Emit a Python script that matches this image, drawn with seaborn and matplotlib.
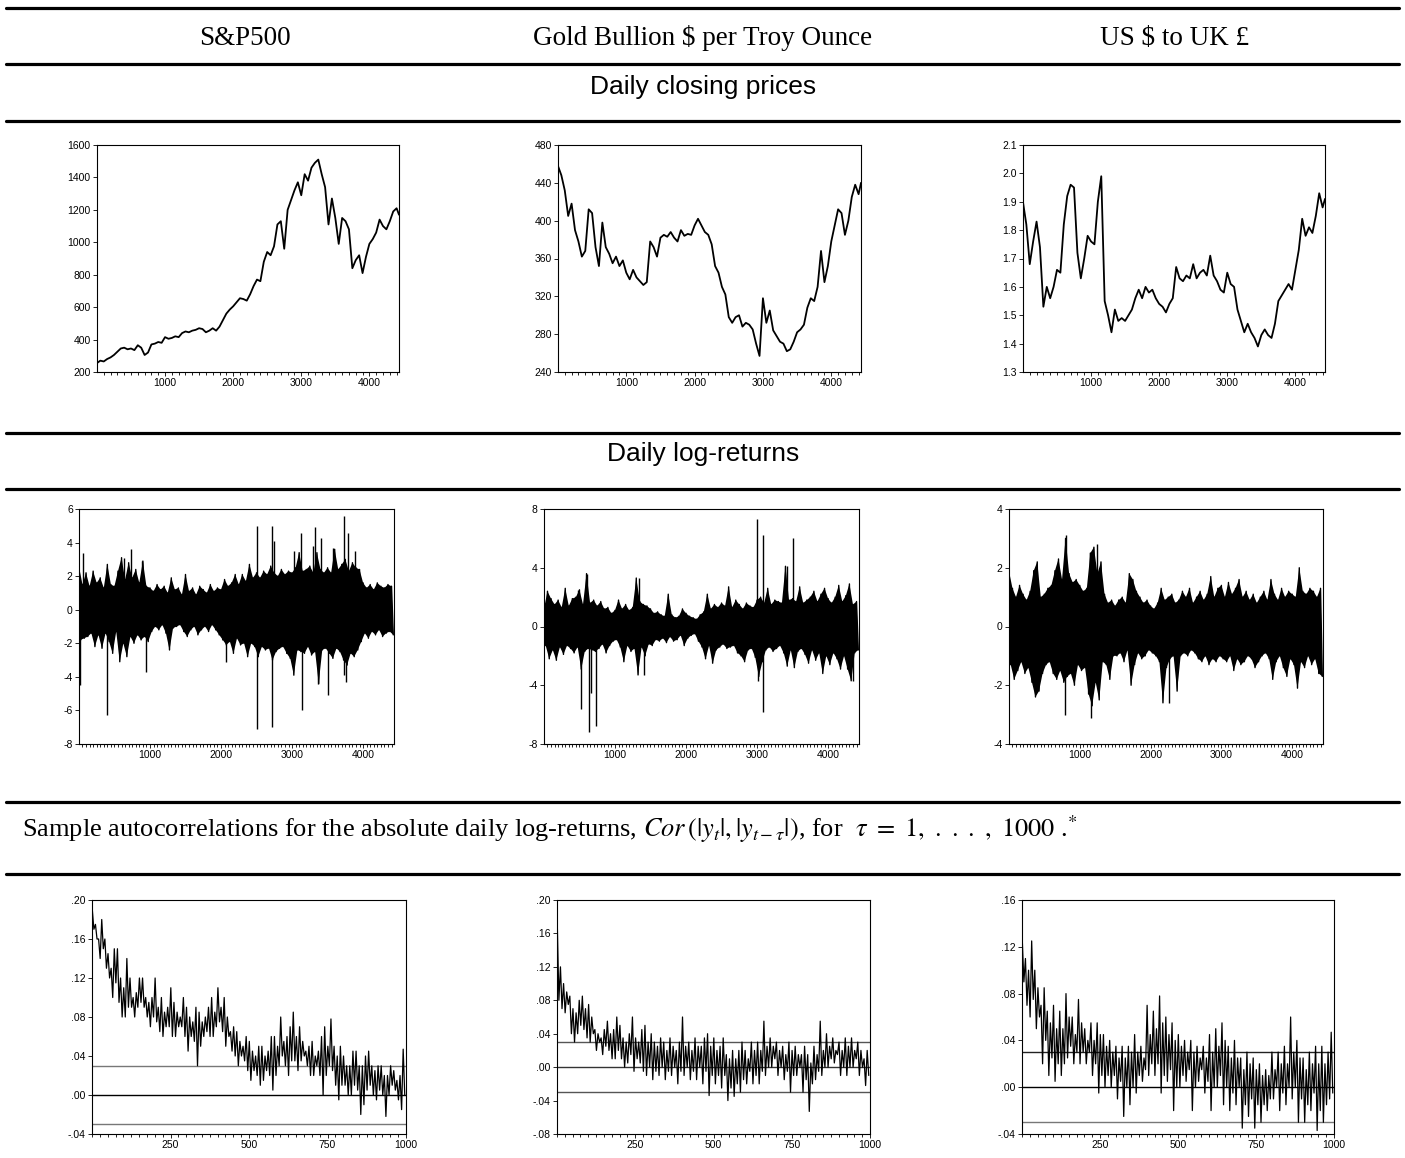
import numpy as np
import pandas as pd
import matplotlib
matplotlib.use("Agg")
import matplotlib.pyplot as plt
from matplotlib.lines import Line2D
from matplotlib.ticker import FixedLocator, MultipleLocator
import seaborn as sns

# ---------------- data ----------------
# daily closing prices, one reading every 50 trading days (last one = obs 4435)
price_obs = list(range(0, 4401, 50)) + [4435]
sp500_close = [255, 270, 265, 280, 290, 305, 325, 345, 350, 340,
               345, 335, 365, 350, 305, 320, 370, 375, 385, 380,
               415, 405, 410, 420, 415, 440, 450, 445, 455, 460,
               470, 465, 445, 455, 470, 455, 480, 520, 560, 585,
               605, 630, 655, 650, 640, 680, 730, 770, 760, 880,
               940, 920, 975, 1110, 1130, 960, 1200, 1260, 1320, 1370,
               1290, 1420, 1380, 1460, 1490, 1510, 1420, 1340, 1110, 1270,
               1150, 990, 1150, 1130, 1080, 840, 890, 920, 810, 910,
               990, 1020, 1060, 1140, 1100, 1080, 1130, 1190, 1210, 1170]
gold_close = [458, 448, 432, 405, 418, 390, 378, 362, 368, 412,
              408, 372, 352, 398, 372, 365, 355, 362, 352, 358,
              345, 338, 348, 340, 336, 332, 335, 378, 372, 362,
              382, 385, 383, 388, 382, 378, 390, 384, 386, 385,
              395, 402, 395, 388, 385, 375, 352, 345, 330, 322,
              298, 292, 298, 300, 288, 292, 290, 285, 270, 257,
              318, 292, 305, 284, 278, 272, 270, 262, 264, 272,
              282, 285, 290, 308, 318, 315, 330, 368, 335, 352,
              378, 395, 412, 408, 385, 400, 425, 438, 428, 440]
usd_gbp_close = [1.90, 1.82, 1.68, 1.76, 1.83, 1.74, 1.53, 1.60, 1.56, 1.60,
                 1.66, 1.65, 1.82, 1.92, 1.96, 1.95, 1.72, 1.63, 1.70, 1.78,
                 1.76, 1.75, 1.90, 1.99, 1.55, 1.50, 1.44, 1.52, 1.48, 1.49,
                 1.48, 1.50, 1.52, 1.56, 1.59, 1.56, 1.60, 1.58, 1.59, 1.56,
                 1.54, 1.53, 1.51, 1.54, 1.56, 1.67, 1.63, 1.62, 1.64, 1.63,
                 1.68, 1.63, 1.65, 1.66, 1.64, 1.71, 1.64, 1.62, 1.59, 1.58,
                 1.65, 1.61, 1.60, 1.52, 1.48, 1.44, 1.47, 1.44, 1.42, 1.39,
                 1.43, 1.45, 1.43, 1.42, 1.47, 1.55, 1.57, 1.59, 1.61, 1.59,
                 1.66, 1.73, 1.84, 1.78, 1.81, 1.79, 1.85, 1.93, 1.88, 1.91]

# daily log-returns: upper envelope read at obs 0,50,..,4400, lower at 25,75,..,4425
ret_obs_hi = list(range(0, 4401, 50))
ret_obs_lo = list(range(25, 4426, 50))
sp500_ret_hi = [2.6, 1.5, 2.2, 1.4, 2.3, 1.6, 1.9, 1.3, 2.7, 1.5,
                1.4, 2.3, 3.1, 1.8, 2.8, 1.9, 2.4, 1.6, 2.9, 1.4,
                1.3, 1.1, 1.5, 1.2, 1.4, 1.0, 1.9, 1.2, 1.3, 0.9,
                2.1, 1.1, 1.3, 0.9, 1.4, 1.2, 1.0, 1.5, 1.1, 1.3,
                1.2, 1.8, 1.4, 1.6, 2.1, 1.5, 2.1, 1.7, 2.7, 1.9,
                2.2, 1.9, 2.3, 2.1, 2.6, 2.2, 2.0, 2.4, 2.1, 2.3,
                2.2, 2.5, 3.4, 2.3, 2.4, 2.6, 2.2, 3.4, 2.4, 2.2,
                2.5, 2.2, 3.6, 2.4, 2.7, 3.0, 2.3, 2.8, 2.5, 2.4,
                1.6, 1.3, 1.5, 1.2, 1.6, 1.4, 1.3, 1.5, 1.4]
sp500_ret_lo = [-1.8, -1.7, -1.6, -1.4, -2.2, -1.5, -2.3, -1.4, -1.9, -2.6,
                -1.3, -3.1, -2.0, -2.8, -1.6, -2.0, -1.5, -1.8, -1.6, -1.9,
                -1.3, -1.0, -1.2, -0.9, -1.4, -2.4, -1.1, -1.0, -0.9, -1.3,
                -1.6, -1.2, -1.0, -1.5, -1.2, -1.0, -1.3, -0.9, -1.2, -1.5,
                -1.8, -2.1, -1.9, -2.6, -1.7, -2.1, -2.0, -2.8, -2.0, -2.2,
                -2.8, -2.2, -2.4, -2.3, -3.0, -2.5, -2.3, -2.2, -2.6, -2.9,
                -3.9, -2.4, -2.5, -2.6, -2.2, -2.7, -2.5, -4.4, -2.4, -2.3,
                -2.6, -2.9, -2.3, -2.5, -3.0, -3.3, -2.6, -2.8, -2.4, -1.9,
                -1.4, -1.7, -1.3, -1.5, -1.2, -1.6, -1.4, -1.3, -1.5]
sp500_spike_obs = [10, 56, 400, 629, 737, 887, 948, 2075, 2502, 2502, 2718, 2718, 2746,
                   3028, 3122, 3136, 3296, 3329, 3371, 3404, 3512, 3577, 3728, 3732,
                   3756, 3789, 3892]
sp500_spike_val = [-4.5, 3.4, -6.3, 3.1, 3.6, 2.9, -3.7, -3.1, 5.0, -7.1, 5.0, -7.0, 4.1,
                   3.5, 4.6, -6.0, 3.8, 4.9, -4.4, 4.3, -5.1, 3.7, 5.6, -3.9,
                   -4.3, 4.6, 3.5]

gold_ret_hi = [1.2, 2.4, 1.9, 1.5, 1.8, 1.3, 2.6, 1.4, 1.9, 2.0,
               2.5, 1.5, 3.6, 1.6, 1.8, 1.4, 1.7, 1.2, 1.3, 0.9,
               1.1, 1.8, 1.2, 1.5, 1.1, 1.3, 3.3, 1.7, 1.5, 1.4,
               1.2, 0.9, 1.0, 0.8, 0.7, 2.2, 0.8, 0.6, 0.7, 1.2,
               0.9, 0.7, 0.6, 0.5, 0.8, 1.0, 2.2, 1.2, 1.5, 1.3,
               1.6, 1.4, 2.7, 1.3, 1.8, 1.5, 1.2, 1.6, 1.4, 1.3,
               1.8, 2.0, 1.6, 2.6, 1.5, 1.8, 1.7, 1.6, 4.1, 1.8,
               1.9, 1.7, 2.7, 1.6, 1.8, 2.0, 2.4, 1.7, 2.2, 2.6,
               1.9, 1.6, 2.0, 2.8, 1.7, 2.1, 2.9, 1.5, 1.7]
gold_ret_lo = [-1.3, -2.2, -1.6, -2.3, -1.4, -1.9, -1.3, -1.5, -1.8, -1.4,
               -2.9, -1.7, -1.5, -1.6, -1.7, -1.5, -1.2, -1.8, -1.3, -1.0,
               -0.9, -1.4, -2.4, -1.3, -1.7, -1.5, -3.3, -1.4, -2.0, -1.2,
               -1.3, -0.9, -1.0, -0.8, -1.1, -0.7, -1.0, -0.9, -0.6, -1.3,
               -0.8, -0.6, -0.5, -1.0, -1.4, -2.2, -1.3, -2.5, -1.6, -1.4,
               -1.2, -1.5, -1.4, -1.3, -1.8, -2.0, -2.4, -1.6, -1.5, -2.1,
               -3.4, -2.4, -1.6, -1.4, -1.7, -1.5, -1.3, -1.8, -2.7, -1.6,
               -2.8, -1.7, -1.5, -1.9, -2.5, -1.6, -2.3, -1.8, -3.2, -2.0,
               -2.6, -1.8, -2.2, -2.9, -2.0, -2.9, -3.7, -1.8, -1.6]
gold_spike_obs = [478, 525, 605, 633, 666, 736, 1336, 1402, 2996, 3010, 3090, 3090, 3418, 3502, 4345]
gold_spike_val = [2.5, -5.6, 3.6, -7.2, -4.5, -6.8, 3.3, -3.3, 7.3, -3.7, 6.2, -5.8, 4.1, 6.0, -3.7]

usd_gbp_ret_hi = [1.9, 1.3, 1.0, 1.4, 1.1, 0.9, 1.2, 1.9, 2.2, 1.0,
                  1.1, 1.3, 1.4, 1.9, 2.3, 1.6, 3.0, 1.8, 1.5, 1.6,
                  1.4, 1.2, 1.3, 2.5, 2.7, 1.8, 2.2, 1.1, 0.8, 0.9,
                  0.7, 0.9, 1.0, 0.8, 1.8, 1.6, 1.2, 1.0, 0.8, 0.9,
                  0.7, 0.6, 0.8, 1.3, 0.9, 1.0, 1.1, 0.8, 0.9, 1.2,
                  1.0, 1.3, 0.8, 1.0, 1.2, 0.9, 1.1, 1.7, 1.0, 1.3,
                  1.4, 1.0, 1.5, 1.1, 1.3, 1.6, 1.0, 1.2, 0.9, 1.1,
                  0.8, 1.0, 1.2, 0.9, 1.6, 1.1, 0.9, 1.3, 1.0, 1.2,
                  1.1, 1.0, 2.0, 1.2, 1.1, 1.3, 1.2, 1.0, 1.3]
usd_gbp_ret_lo = [-1.3, -1.8, -1.5, -1.2, -1.6, -1.4, -1.9, -2.4, -2.2, -1.6,
                  -1.3, -1.2, -1.6, -1.8, -1.5, -1.9, -1.7, -1.6, -2.0, -1.3,
                  -1.5, -1.4, -2.3, -2.7, -1.9, -2.5, -1.2, -1.3, -1.8, -1.0,
                  -1.0, -0.9, -1.2, -0.8, -2.0, -1.3, -0.9, -1.1, -1.0, -0.8,
                  -0.9, -1.0, -1.2, -2.6, -1.4, -1.1, -1.0, -2.2, -1.0, -0.9,
                  -1.0, -0.8, -0.9, -1.1, -1.2, -1.0, -1.3, -1.1, -1.2, -1.0,
                  -1.1, -1.2, -1.0, -1.5, -1.1, -1.3, -1.2, -1.0, -1.1, -1.4,
                  -1.2, -1.0, -0.9, -1.1, -1.8, -1.2, -1.0, -1.4, -1.7, -1.1,
                  -1.3, -2.1, -1.2, -1.4, -1.0, -1.3, -1.1, -1.6, -1.7]
usd_gbp_spike_obs = [794, 803, 1160, 1240, 2255]
usd_gbp_spike_val = [-3.0, 3.1, -3.1, 2.8, -2.6]

# autocorrelations of |y_t|: upper envelope at lags 1,11,..,991, lower at 6,16,..,996
acf_lag_hi = list(range(1, 1000, 10))
acf_lag_lo = list(range(6, 1000, 10))
sp500_acf_hi = [.19, .175, .16, .18, .16, .145, .13, .15, .15, .12, .11, .14, .12, .10, .105, .12, .12, .10, .095, .10,
                .12, .09, .10, .085, .09, .11, .095, .085, .08, .10, .09, .08, .075, .09, .085, .075, .08, .09, .10, .085,
                .11, .09, .10, .08, .065, .07, .065, .055, .05, .06, .055, .045, .04, .05, .05, .04, .045, .06, .06, .05,
                .08, .055, .06, .07, .085, .06, .07, .055, .045, .05, .055, .04, .045, .06, .07, .05, .078, .05, .04, .05,
                .04, .03, .03, .045, .045, .03, .03, .04, .045, .03, .025, .03, .03, .02, .02, .03, .025, .015, .02, .047]
sp500_acf_lo = [.17, .16, .14, .15, .13, .12, .10, .115, .095, .08, .08, .09, .09, .08, .09, .095, .09, .08, .07, .08,
                .075, .065, .06, .07, .07, .06, .06, .07, .07, .06, .045, .06, .055, .03, .05, .06, .065, .06, .06, .07,
                .075, .065, .05, .06, .045, .04, .03, .04, .035, .025, .015, .025, .02, .01, .015, .025, .02, .005, .02, .03,
                .04, .03, .02, .035, .035, .025, .035, .04, .03, .02, .02, .03, .02, .0, .02, .03, .025, .01, -.005, .01,
                .01, .0, .0, .01, .005, -.02, -.01, .005, .01, .0, -.005, .005, .0, -.022, .0, .01, .005, -.005, -.015, .0]
gold_acf_hi = [.17, .12, .10, .09, .085, .07, .065, .08, .085, .07, .075, .06, .045, .04, .035, .045, .055, .04, .045, .06,
               .05, .035, .03, .04, .06, .035, .03, .045, .05, .03, .04, .03, .025, .035, .03, .02, .035, .025, .02, .03,
               .06, .025, .03, .02, .035, .025, .025, .035, .04, .025, .035, .02, .025, .035, .015, .01, .02, .01, .02, .03,
               .02, .01, .03, .02, .03, .02, .055, .025, .035, .025, .03, .02, .025, .015, .03, .02, .025, .015, .015, .025,
               .015, .005, .025, .015, .055, .02, .04, .025, .035, .02, .03, .02, .035, .025, .035, .02, .03, .02, .01, .02]
gold_acf_lo = [.08, .07, .065, .075, .04, .03, .04, .05, .045, .035, .03, .04, .02, .03, .015, .025, .02, .01, .01, .02,
               .01, .0, .005, .015, -.005, .01, .005, -.005, -.01, .0, -.015, -.005, -.01, .0, -.015, -.005, -.01, .0, -.02, -.005,
               -.01, .0, -.015, -.005, -.015, .0, -.02, -.005, -.034, -.01, -.02, -.01, -.025, -.01, -.04, -.025, -.035, -.02, -.03, -.015,
               -.02, -.005, -.02, -.01, -.02, -.005, -.01, .0, .0, .01, -.01, .0, -.015, -.005, -.03, -.01, -.01, .0, -.03, -.015,
               -.053, -.02, -.015, -.005, -.01, .0, .0, .01, .005, .015, -.01, .0, -.01, .0, .0, .01, -.01, .0, -.022, -.01]
usd_gbp_acf_hi = [.125, .11, .10, .125, .10, .085, .07, .085, .065, .055, .07, .05, .065, .05, .08, .06, .06, .045, .075, .055,
                  .05, .04, .055, .04, .055, .045, .045, .035, .04, .03, .035, .025, .035, .025, .035, .03, .045, .03, .035, .025,
                  .07, .045, .065, .05, .078, .055, .06, .045, .055, .04, .045, .035, .04, .03, .04, .03, .035, .025, .035, .025,
                  .045, .03, .05, .035, .055, .04, .035, .025, .04, .025, .025, .015, .03, .02, .025, .015, .02, .01, .015, .01,
                  .03, .015, .03, .02, .035, .02, .06, .03, .04, .025, .025, .015, .03, .02, .035, .02, .035, .02, .03, .047]
usd_gbp_acf_lo = [.09, .07, .06, .075, .05, .06, .02, .04, .01, .025, .005, .02, .01, .02, .025, .035, .02, .03, .02, .03,
                  .02, .03, .01, .02, -.005, .01, .0, .01, .0, .01, -.01, .005, -.025, .0, -.015, .0, -.005, .01, .005, .015,
                  .01, .02, .01, .02, -.005, .01, .005, .015, -.02, .0, .0, .01, .005, .015, -.02, .0, .005, .015, -.005, .005,
                  -.02, .0, .0, .01, -.015, .0, -.02, -.005, -.015, .0, -.035, -.015, -.025, -.01, -.035, -.015, -.03, -.015, -.02, -.01,
                  -.01, .0, -.02, -.005, -.015, .0, -.01, .0, -.03, -.01, -.03, -.015, -.02, -.005, -.037, -.02, -.03, -.015, -.01, -.005]
acf_band = 0.03

# titles and tick labels
series_titles = [r"S&P500", r"Gold Bullion \$ per Troy Ounce", r"US \$ to UK £"]
obs_ticks = [1000, 2000, 3000, 4000]
lag_ticks = [250, 500, 750, 1000]
price_yticks = [list(range(200, 1601, 200)), list(range(240, 481, 40)),
                [1.3, 1.4, 1.5, 1.6, 1.7, 1.8, 1.9, 2.0, 2.1]]
ret_yticks = [[-8, -6, -4, -2, 0, 2, 4, 6], [-8, -4, 0, 4, 8], [-4, -2, 0, 2, 4]]
acf_yticks = [[-.04, .00, .04, .08, .12, .16, .20],
              [-.08, -.04, .00, .04, .08, .12, .16, .20],
              [-.04, .00, .04, .08, .12, .16]]
acf_ylabels = [["-.04", ".00", ".04", ".08", ".12", ".16", ".20"],
               ["-.08", "-.04", ".00", ".04", ".08", ".12", ".16", ".20"],
               ["-.04", ".00", ".04", ".08", ".12", ".16"]]


def zigzag(xa, ya, xb, yb):
    df = pd.DataFrame({"x": list(xa) + list(xb), "y": list(ya) + list(yb)})
    return df.sort_values("x").reset_index(drop=True)


sns.set_style("white")
plt.rcParams["font.family"] = ["Liberation Sans", "DejaVu Sans"]
plt.rcParams["mathtext.fontset"] = "stix"
plt.rcParams["axes.unicode_minus"] = False
for k in ["text.color", "xtick.color", "ytick.color", "axes.labelcolor"]:
    plt.rcParams[k] = "black"

W, H = 1405, 1158
fig = plt.figure(figsize=(W / 100, H / 100), dpi=100)


def axes_px(left, top, right, bottom):
    return fig.add_axes([left / W, 1 - bottom / H, (right - left) / W, (bottom - top) / H])


def style(ax, minor):
    for s in ax.spines.values():
        s.set_color("black")
        s.set_linewidth(0.8)
    ax.tick_params(axis="both", which="major", direction="out", length=3, width=0.6,
                   labelsize=7.5, pad=1.5, left=True, bottom=True)
    ax.tick_params(axis="x", which="minor", direction="out", length=2.5, width=0.6, bottom=True)
    ax.xaxis.set_minor_locator(MultipleLocator(minor))
    ax.set_xlabel("")
    ax.set_ylabel("")


# ---- rules and headings
for y in [8, 64, 121, 433, 489, 802, 874]:
    fig.add_artist(Line2D([0.004, 0.996], [1 - y / H] * 2, color="black", lw=2.3))

serif = ["Liberation Serif", "DejaVu Serif"]
for xc, t in zip([245, 703, 1175], series_titles):
    fig.text(xc / W, 1 - 45 / H, t, ha="center", va="baseline", fontsize=19.5, family=serif)
fig.text(703 / W, 1 - 94 / H, "Daily closing prices", ha="center", va="baseline", fontsize=19)
fig.text(703 / W, 1 - 461 / H, "Daily log-returns", ha="center", va="baseline", fontsize=19)
fig.text(22 / W, 1 - 837 / H,
         r"Sample autocorrelations for the absolute daily log-returns, "
         r"$\mathit{Cor}\,(|y_t|,|y_{t-\tau}|)$, for  "
         r"$\tau\ =\ 1,\ .\ .\ .\ ,\ 1000$ .$^{*}$",
         ha="left", va="baseline", fontsize=19, family=serif)

# ---- row 1: prices
price_boxes = [(97, 145, 399, 372), (558, 145, 861, 372), (1023, 145, 1325, 372)]
for box, vals, yt in zip(price_boxes, [sp500_close, gold_close, usd_gbp_close], price_yticks):
    ax = axes_px(*box)
    sns.lineplot(x=price_obs, y=vals, ax=ax, color="black", linewidth=1.3, estimator=None)
    ax.set_xlim(1, 4435)
    ax.set_ylim(yt[0], yt[-1])
    ax.yaxis.set_major_locator(FixedLocator(yt))
    if isinstance(yt[0], float):
        ax.set_yticklabels([f"{v:.1f}" for v in yt])
    ax.xaxis.set_major_locator(FixedLocator(obs_ticks))
    style(ax, 100)

# ---- row 2: returns
ret_boxes = [(79, 509, 394, 744), (544, 509, 859, 744), (1009, 509, 1323, 744)]
ret_series = [(sp500_ret_hi, sp500_ret_lo, sp500_spike_obs, sp500_spike_val),
              (gold_ret_hi, gold_ret_lo, gold_spike_obs, gold_spike_val),
              (usd_gbp_ret_hi, usd_gbp_ret_lo, usd_gbp_spike_obs, usd_gbp_spike_val)]
for box, (hi, lo, sx, sv), yt in zip(ret_boxes, ret_series, ret_yticks):
    ax = axes_px(*box)
    # solid band between the upper and lower envelopes, then the zigzag and the big spikes
    ax.fill(ret_obs_hi + ret_obs_lo[::-1], hi + lo[::-1], color="black", linewidth=0)
    d = zigzag(ret_obs_hi, hi, ret_obs_lo, lo)
    sns.lineplot(data=d, x="x", y="y", ax=ax, color="black", linewidth=1.0, estimator=None)
    ax.vlines(sx, 0, sv, color="black", linewidth=1.0)
    ax.set_xlim(1, 4435)
    ax.set_ylim(yt[0], yt[-1])
    ax.yaxis.set_major_locator(FixedLocator(yt))
    ax.xaxis.set_major_locator(FixedLocator(obs_ticks))
    style(ax, 50)

# ---- row 3: autocorrelations
acf_boxes = [(92, 900, 406, 1134), (557, 900, 870, 1134), (1022, 900, 1334, 1134)]
acf_series = [(sp500_acf_hi, sp500_acf_lo), (gold_acf_hi, gold_acf_lo),
              (usd_gbp_acf_hi, usd_gbp_acf_lo)]
band_colors = [("#777777", "black", "#777777"), ("#555555", "#333333", "#555555"),
               ("#222222", "black", "#777777")]
for box, (hi, lo), yt, yl, bc in zip(acf_boxes, acf_series, acf_yticks, acf_ylabels, band_colors):
    ax = axes_px(*box)
    for lvl, c in zip([acf_band, 0, -acf_band], bc):
        ax.axhline(lvl, color=c, linewidth=1.0, zorder=1)
    d = zigzag(acf_lag_hi, hi, acf_lag_lo, lo)
    sns.lineplot(data=d, x="x", y="y", ax=ax, color="black", linewidth=0.9, estimator=None, zorder=2)
    ax.set_xlim(0, 1000)
    ax.set_ylim(yt[0], yt[-1])
    ax.yaxis.set_major_locator(FixedLocator(yt))
    ax.set_yticklabels(yl)
    ax.xaxis.set_major_locator(FixedLocator(lag_ticks))
    style(ax, 25)

fig.savefig("out.png", dpi=100)
